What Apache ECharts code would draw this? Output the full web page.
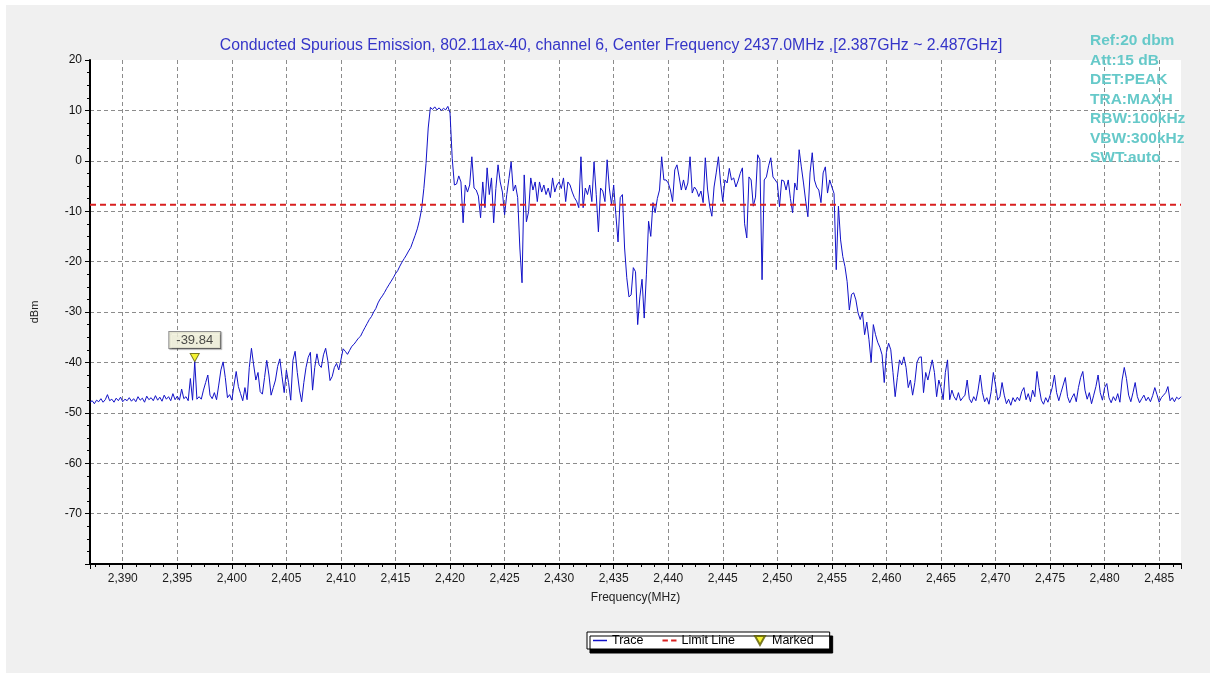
<!DOCTYPE html>
<html>
<head>
<meta charset="utf-8">
<script src="https://cdn.jsdelivr.net/npm/echarts@6/dist/echarts.min.js"></script>
<style>
  html, body { margin: 0; padding: 0; background: #ffffff; }
  #panel { position: absolute; left: 6px; top: 5px; width: 1204px; height: 668px; background: #f0f0f0; }
  #chart { position: absolute; left: 0; top: 0; width: 1216px; height: 679px; }
</style>
</head>
<body>
<div id="panel"></div>
<div id="chart"></div>
<script>
// ---------------- DATA ----------------
const titleText = 'Conducted Spurious Emission, 802.11ax-40, channel 6, Center Frequency 2437.0MHz ,[2.387GHz ~ 2.487GHz]';
const infoLines = ['Ref:20 dbm', 'Att:15 dB', 'DET:PEAK', 'TRA:MAXH', 'RBW:100kHz', 'VBW:300kHz', 'SWT:auto'];
const freqStart = 2387.0;   // MHz
const freqStep = 0.2;       // MHz
const freqMin = 2387, freqMax = 2487;
const dbmMin = -80, dbmMax = 20;
const limitLevel = -8.7;    // dBm
const markerFreq = 2396.6;  // MHz
const markerValue = -39.84; // dBm

// trace values (dBm), 0.2 MHz steps
const trace2387 = [-47.9,-47.6,-48.2,-47.5,-47.8,-47.2,-47.9,-47.4,-46.4,-47.6,
  -47.3,-47.9,-47.1,-47.6,-46.9,-47.8,-47.3,-47.6,-47.0,-47.7,
  -47.2,-47.8,-46.8,-47.5,-47.1,-47.9,-46.7,-47.4,-47.0,-47.6,
  -46.6,-47.5,-46.9,-47.7,-46.5,-47.3,-46.8,-47.6,-46.2,-47.4,
  -46.7,-47.5,-45.3,-47.2,-46.8,-47.6,-43.2,-47.5,-39.84,-47.3];
const trace2397 = [-46.8,-47.3,-45.5,-44.0,-42.5,-46.5,-47.2,-46.0,-47.4,-44.5,
  -41.5,-39.9,-43.0,-47.0,-46.4,-47.5,-44.5,-41.8,-44.8,-46.2,
  -47.6,-45.0,-47.4,-41.0,-37.2,-40.5,-43.5,-42.0,-45.8,-46.3,
  -43.0,-39.6,-42.5,-46.5,-45.0,-43.5,-40.8,-39.3,-42.8,-46.0,
  -41.5,-44.0,-47.5,-39.6,-37.8,-42.0,-45.5,-47.8,-44.0,-41.0];
const trace2407 = [-39.0,-38.0,-45.5,-41.0,-38.3,-40.5,-41.0,-38.5,-37.2,-39.7,
  -43.6,-42.8,-41.0,-40.2,-41.5,-39.5,-37.3,-37.8,-38.4,-37.6,
  -36.8,-36.4,-35.8,-35.2,-34.8,-33.9,-33.1,-32.3,-31.5,-30.9,
  -30.0,-29.3,-28.2,-27.4,-26.8,-26.1,-25.3,-24.6,-23.9,-23.2,
  -22.4,-21.8,-20.9,-20.1,-19.4,-18.7,-17.9,-17.2,-16.0,-14.8];
const trace2417 = [-13.5,-11.8,-9.5,-5.5,-0.5,6.5,10.6,10.2,10.7,10.1,
  10.5,10.0,10.4,10.1,10.8,9.5,0.5,-4.8,-4.6,-3.0,
  -4.2,-12.3,-4.8,-6.2,-4.8,0.8,-5.4,-5.8,-7.0,-11.3,
  -4.2,-9.3,-1.4,-6.7,-3.4,-12.3,-5.5,-0.8,-4.2,-6.2,
  -10.7,-6.7,-3.5,-0.2,-6.0,-4.8,-7.3,-17.3,-24.2,-2.8];
const trace2427 = [-12.1,-10.1,-3.4,-5.8,-4.2,-8.1,-4.2,-6.2,-4.8,-6.7,
  -5.4,-7.3,-3.4,-6.2,-4.8,-4.2,-5.5,-3.4,-8.1,-4.2,
  -4.8,-6.2,-7.3,-8.0,-9.3,0.8,-9.3,-5.4,-6.7,-4.8,
  -8.1,-0.2,-6.7,-14.1,-5.4,-6.0,-8.1,0.2,-5.4,-8.7,
  -4.8,-10.7,-16.1,-7.3,-6.7,-17.3,-23.2,-27.0,-26.6,-21.2];
const trace2437 = [-22.0,-32.5,-27.0,-23.5,-31.2,-22.5,-12.0,-15.0,-8.3,-10.3,
  -7.5,-5.8,0.8,-3.8,-3.8,-4.4,-5.8,-8.1,-1.8,-0.8,
  -3.2,-5.8,-3.8,-5.8,-4.4,0.8,-6.4,-5.2,-5.8,-7.1,
  -6.0,-8.3,0.6,-5.6,-9.0,-11.0,-5.2,-2.4,0.8,-4.4,
  -8.1,-3.8,-4.4,-1.5,-3.8,-3.4,-5.2,-4.0,-2.5,-1.4];
const trace2447 = [-12.5,-15.3,-3.2,-3.8,-9.0,-7.2,1.2,0.2,-23.6,-3.8,
  -3.2,-1.0,0.6,-3.2,-3.8,-4.4,-9.1,-3.8,-4.0,-5.8,
  -3.8,-7.5,-10.3,-4.4,-5.8,2.2,-1.2,-4.4,-8.0,-11.1,
  -2.4,1.6,-3.8,-5.2,-5.8,-8.3,-2.4,-1.2,-6.4,-3.8,
  -5.2,-6.5,-21.6,-9.0,-15.7,-19.0,-21.0,-24.0,-29.6,-26.5];
const trace2457 = [-26.2,-27.6,-30.2,-31.5,-30.0,-34.5,-32.0,-35.5,-40.0,-32.5,
  -34.5,-36.0,-37.0,-38.5,-44.0,-38.0,-36.2,-37.5,-42.0,-46.8,
  -43.0,-39.5,-40.5,-38.9,-41.0,-45.0,-43.5,-46.5,-44.0,-40.0,
  -39.0,-38.9,-46.0,-42.0,-43.5,-41.5,-39.5,-42.0,-46.8,-43.5,
  -45.0,-47.4,-42.0,-39.5,-47.4,-45.5,-46.8,-47.5,-46.0,-47.6];
const trace2467 = [-47.0,-46.5,-43.5,-47.2,-48.0,-46.8,-47.6,-45.5,-42.5,-46.0,
  -47.8,-47.0,-48.3,-45.8,-42.0,-44.5,-47.5,-46.8,-44.0,-46.5,
  -48.2,-47.3,-48.5,-47.0,-47.8,-46.9,-47.6,-45.8,-45.0,-47.4,
  -46.2,-47.8,-45.5,-46.8,-41.8,-45.0,-47.5,-48.3,-47.0,-47.9,
  -46.5,-45.0,-42.5,-46.0,-47.6,-46.0,-44.5,-43.0,-46.8,-48.0];
const trace2477 = [-47.0,-46.2,-47.8,-45.0,-43.0,-41.8,-45.5,-47.3,-46.0,-48.2,
  -46.5,-44.8,-42.5,-46.0,-47.5,-45.0,-44.2,-47.0,-48.0,-46.8,
  -47.6,-46.2,-47.9,-43.5,-41.0,-43.2,-46.5,-47.8,-46.0,-44.0,
  -46.8,-48.0,-47.2,-46.5,-47.6,-46.9,-47.8,-46.6,-45.0,-46.4,
  -47.9,-47.0,-46.5,-46.0,-44.8,-47.6,-47.0,-47.8,-46.9,-47.3,
  -46.8];

const traceValues = [].concat(trace2387, trace2397, trace2407, trace2417, trace2427,
  trace2437, trace2447, trace2457, trace2467, trace2477);
const traceData = traceValues.map((v, i) => [+(freqStart + i * freqStep).toFixed(1), v]);

// ---------------- CHART ----------------
const chart = echarts.init(document.getElementById('chart'), null, { renderer: 'canvas' });
const FONT = 'Liberation Sans, Arial, sans-serif';
const triDown = 'path://M0,0 L10,0 L5,9 Z';
const lineIcon = 'path://M0,0 L14,0 L14,1.5 L0,1.5 Z';
const dashIcon = 'path://M0,0 L5,0 L5,2 L0,2 Z M8,0 L13,0 L13,2 L8,2 Z';

chart.setOption({
  animation: false,
  backgroundColor: 'transparent',
  textStyle: { fontFamily: FONT },
  title: {
    text: titleText,
    left: 606, textAlign: 'center', top: 33,
    textStyle: { color: '#3535c8', fontSize: 15.8, fontWeight: 'normal', fontFamily: FONT }
  },
  graphic: [{
    type: 'text', left: 1090, top: 31,
    style: {
      text: infoLines.join('\n'), fill: '#66c9c9',
      font: 'bold 15.5px ' + FONT, lineHeight: 19.5
    },
    z: 100
  }],
  legend: {
    left: 587, top: 632,
    orient: 'horizontal',
    padding: [2, 16, 2, 6],
    itemGap: 19, itemWidth: 14, itemHeight: 9,
    backgroundColor: '#ffffff', borderColor: '#000000', borderWidth: 1,
    shadowColor: '#000000', shadowOffsetX: 3, shadowOffsetY: 4, shadowBlur: 0,
    textStyle: { fontSize: 12.5, color: '#000', fontFamily: FONT },
    data: [
      { name: 'Trace', icon: lineIcon },
      { name: 'Limit Line', icon: dashIcon },
      { name: 'Marked', icon: triDown }
    ]
  },
  grid: {
    left: 90, right: 35, top: 60, bottom: 115,
    show: true, backgroundColor: '#ffffff', borderWidth: 0
  },
  xAxis: {
    type: 'value', min: freqMin, max: freqMax, splitNumber: 20,
    name: 'Frequency(MHz)', nameLocation: 'middle', nameGap: 28,
    nameTextStyle: { fontSize: 12, color: '#222', fontFamily: FONT },
    axisLine: { show: true, onZero: false, lineStyle: { color: '#000', width: 2 } },
    axisTick: { show: true, length: 5, lineStyle: { color: '#000' } },
    minorTick: { show: true, splitNumber: 4, length: 3, lineStyle: { color: '#000' } },
    axisLabel: {
      margin: 9, fontSize: 12, color: '#1a1a1a', fontFamily: FONT,
      showMinLabel: false, showMaxLabel: false,
      formatter: v => v.toLocaleString('en-US')
    },
    splitLine: {
      show: true, showMinLine: false, showMaxLine: false,
      lineStyle: { color: '#8c8c8c', type: [4, 3], width: 1 }
    }
  },
  yAxis: {
    type: 'value', min: dbmMin, max: dbmMax, interval: 10,
    name: 'dBm', nameLocation: 'middle', nameGap: 50,
    nameTextStyle: { fontSize: 11, color: '#222', fontFamily: FONT },
    axisLine: { show: true, onZero: false, lineStyle: { color: '#000', width: 2 } },
    axisTick: { show: true, length: 5, lineStyle: { color: '#000' } },
    minorTick: { show: true, splitNumber: 4, length: 3, lineStyle: { color: '#000' } },
    axisLabel: {
      margin: 8, fontSize: 12, color: '#111', fontFamily: FONT,
      showMinLabel: false
    },
    splitLine: {
      show: true, showMinLine: false, showMaxLine: false,
      lineStyle: { color: '#8c8c8c', type: [4, 3], width: 1 }
    }
  },
  series: [
    {
      name: 'Trace', type: 'line', data: traceData,
      showSymbol: false, symbol: 'none',
      lineStyle: { color: '#1212c8', width: 1 },
      itemStyle: { color: '#1212c8' },
      z: 3
    },
    {
      name: 'Limit Line', type: 'line',
      data: [[freqMin, limitLevel], [freqMax, limitLevel]],
      showSymbol: false, symbol: 'none',
      lineStyle: { color: '#d92020', width: 2, type: [6, 4] },
      itemStyle: { color: '#d92020' },
      z: 4
    },
    {
      name: 'Marked', type: 'scatter',
      data: [[markerFreq, markerValue]],
      symbol: triDown, symbolSize: [9, 8], symbolOffset: [0, '-50%'],
      itemStyle: { color: '#f3f000', borderColor: '#5a5a00', borderWidth: 1 },
      label: {
        show: true, position: 'top', distance: 5,
        formatter: p => p.value[1].toFixed(2),
        fontSize: 13, color: '#222', fontFamily: FONT,
        backgroundColor: '#fbfbe4', borderColor: '#777', borderWidth: 1,
        padding: [2, 7, 1, 7],
        shadowColor: 'rgba(0,0,0,0.35)', shadowOffsetX: 1, shadowOffsetY: 1, shadowBlur: 1
      },
      z: 5
    }
  ]
});
</script>
</body>
</html>
